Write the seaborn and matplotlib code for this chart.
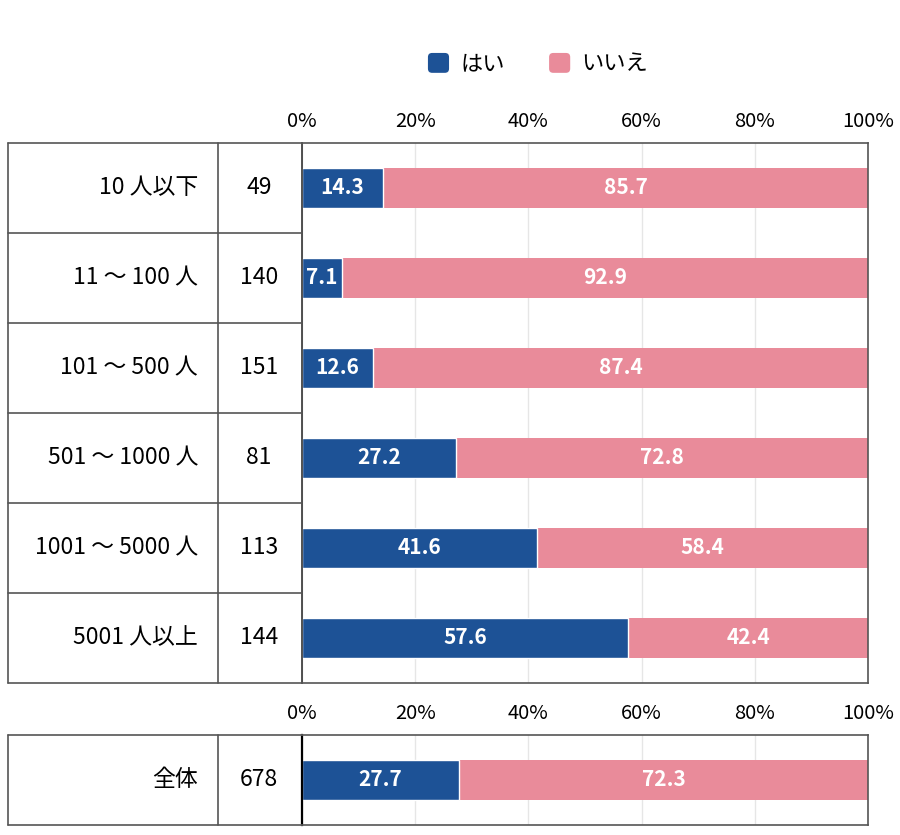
import pandas as pd
import seaborn as sns
import matplotlib.pyplot as plt
from matplotlib.patches import Patch, FancyBboxPatch
from matplotlib.legend_handler import HandlerPatch

# data
categorias = ['10 人以下', '11 〜 100 人', '101 〜 500 人', '501 〜 1000 人', '1001 〜 5000 人', '5001 人以上']
n_resp = [49, 140, 151, 81, 113, 144]
hai = [14.3, 7.1, 12.6, 27.2, 41.6, 57.6]
iie = [85.7, 92.9, 87.4, 72.8, 58.4, 42.4]

total_cat = ['全体']
total_n = [678]
total_hai = [27.7]
total_iie = [72.3]

ticks = [0, 20, 40, 60, 80, 100]
tick_labels = ['0%', '20%', '40%', '60%', '80%', '100%']

AZUL = '#1d5296'
ROSA = '#e98b9a'
LINHA = '#555555'

sns.set_theme(style='white')
plt.rcParams['font.family'] = ['Noto Sans CJK JP', 'DejaVu Sans']
plt.rcParams['text.color'] = 'black'
plt.rcParams['xtick.color'] = 'black'

W, H = 900, 835
fig = plt.figure(figsize=(9, 8.35), dpi=100)


def box(x0, y0, x1, y1):
    return [x0 / W, 1 - y1 / H, (x1 - x0) / W, (y1 - y0) / H]


def grafico(ax, df, largura):
    df = df.copy()
    df['total'] = df['hai'] + df['iie']
    sns.barplot(data=df, y='cat', x='total', color=ROSA, width=largura,
                saturation=1, ax=ax, linewidth=0)
    sns.barplot(data=df, y='cat', x='hai', color=AZUL, width=largura,
                saturation=1, ax=ax, edgecolor='white', linewidth=1)
    # rótulos
    for i, (a, b) in enumerate(zip(df['hai'], df['iie'])):
        ax.text(a / 2, i, f'{a:.1f}', color='white', ha='center', va='center',
                fontsize=15, fontweight='bold')
        ax.text(a + b / 2, i, f'{b:.1f}', color='white', ha='center', va='center',
                fontsize=15, fontweight='bold')
    ax.set_xlim(0, 100)
    ax.set_xticks(ticks)
    ax.set_xticklabels(tick_labels, fontsize=14.5)
    ax.xaxis.tick_top()
    ax.tick_params(axis='x', length=0, pad=8)
    ax.set_yticks([])
    ax.set(xlabel='', ylabel='')
    ax.grid(axis='x', color='#e6e6e6', linewidth=1)
    ax.set_axisbelow(True)
    for s in ax.spines.values():
        s.set_color(LINHA)
        s.set_linewidth(1.2)


def tabela(ax, cats, ns):
    k = len(cats)
    ax.set_xlim(0, 294)
    ax.set_ylim(k - 0.5, -0.5)
    ax.axis('off')
    for j in range(k + 1):
        ax.plot([0, 294], [j - 0.5, j - 0.5], color=LINHA, lw=1.2, clip_on=False)
    ax.plot([0, 0], [-0.5, k - 0.5], color=LINHA, lw=1.2, clip_on=False)
    ax.plot([210, 210], [-0.5, k - 0.5], color=LINHA, lw=1.2, clip_on=False)
    for i, (c, v) in enumerate(zip(cats, ns)):
        ax.text(190, i, c, ha='right', va='center', fontsize=16.5)
        ax.text(251, i, str(v), ha='center', va='center', fontsize=16.5)


class QuadradoRedondo(HandlerPatch):
    def create_artists(self, legend, orig_handle, xdescent, ydescent,
                       width, height, fontsize, trans):
        p = FancyBboxPatch((-xdescent, -ydescent), width, height,
                           boxstyle='round,pad=0,rounding_size=3',
                           facecolor=orig_handle.get_facecolor(), edgecolor='none',
                           transform=trans)
        return [p]


df_top = pd.DataFrame({'cat': categorias, 'n': n_resp, 'hai': hai, 'iie': iie})
df_tot = pd.DataFrame({'cat': total_cat, 'n': total_n, 'hai': total_hai, 'iie': total_iie})

ax1 = fig.add_axes(box(302, 143, 868, 683))
grafico(ax1, df_top, 0.45)
ax1.spines['left'].set_color('#333333')
tb1 = fig.add_axes(box(8, 143, 302, 683))
tabela(tb1, categorias, n_resp)

ax2 = fig.add_axes(box(302, 735, 868, 825))
grafico(ax2, df_tot, 0.45)
ax2.spines['left'].set_color('black')
ax2.spines['left'].set_linewidth(1.6)
tb2 = fig.add_axes(box(8, 735, 302, 825))
tabela(tb2, total_cat, total_n)

handles = [Patch(facecolor=AZUL, label='はい'), Patch(facecolor=ROSA, label='いいえ')]
fig.legend(handles=handles, loc='center', bbox_to_anchor=(538 / W, 1 - 64 / H), ncol=2,
           frameon=False, fontsize=16, handlelength=0.95, handleheight=1.0,
           columnspacing=2.0, handletextpad=0.5,
           handler_map={Patch: QuadradoRedondo()})

plt.savefig('out.png', dpi=100)
